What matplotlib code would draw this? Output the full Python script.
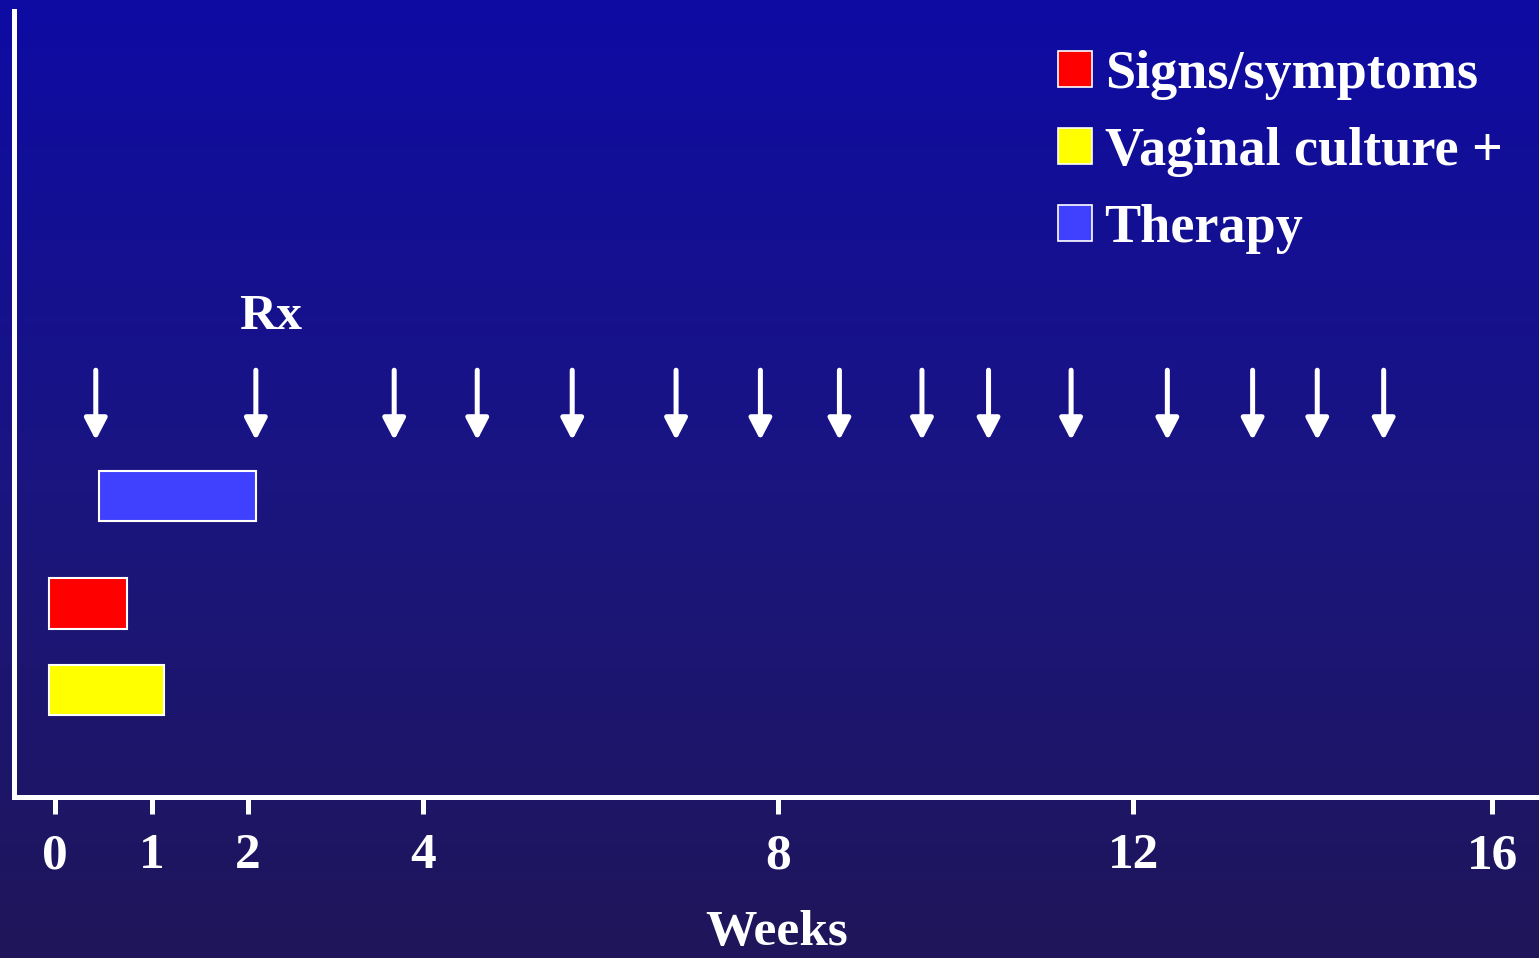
import numpy as np
import matplotlib
matplotlib.use("Agg")
import matplotlib.pyplot as plt
from matplotlib.colors import LinearSegmentedColormap
from matplotlib.patches import Patch

# timeline data, all in weeks
tick_weeks = [0, 1, 2, 4, 8, 12, 16]
tick_labels = ["0", "1", "2", "4", "8", "12", "16"]
rx_weeks = [0.42, 2.09, 3.67, 4.61, 5.68, 6.85, 7.80, 8.69, 9.62,
            10.37, 11.30, 12.38, 13.33, 14.05, 14.79]
series = ["Signs/symptoms", "Vaginal culture +", "Therapy"]
starts = [-0.06, -0.06, 0.45]
ends = [0.74, 1.12, 2.09]
colors = ["#ff0000", "#ffff00", "#4040ff"]

plt.rcParams["font.family"] = ["Liberation Serif", "DejaVu Serif"]
plt.rcParams["font.weight"] = "bold"

# slide axis is stretched a bit for the first two weeks
knot_w = [-1, 0, 1, 2, 4, 8, 12, 16, 17]
knot_f = [-0.0367, 0.0269, 0.0905, 0.1534, 0.2682, 0.501, 0.7338, 0.9692, 1.0281]


def fwd(w):
    return np.interp(w, knot_w, knot_f)


def inv(f):
    return np.interp(f, knot_f, knot_w)


fig = plt.figure(figsize=(15.39, 9.58), dpi=100)

# gradient background
bg = fig.add_axes([0, 0, 1, 1], zorder=-1)
cmap = LinearSegmentedColormap.from_list("slide", ["#0e0ba4", "#1a1580", "#20155a"])
bg.imshow(np.linspace(0, 1, 256).reshape(-1, 1), aspect="auto", cmap=cmap,
          extent=[0, 1, 0, 1])
bg.axis("off")

ax = fig.add_axes([14 / 1539, 161 / 958, 1 - 14 / 1539, 786 / 958])
ax.set_facecolor("none")
ax.set_xscale("function", functions=(fwd, inv))
ax.set_xlim(-0.423, 16.52)
ax.set_ylim(0, 10)

# bars, bottom to top: culture, signs, therapy
row_y = {"Vaginal culture +": 1.36, "Signs/symptoms": 2.46, "Therapy": 3.83}
for name, s, e, c in zip(series, starts, ends, colors):
    ax.barh(row_y[name], e - s, left=s, height=0.64, color=c,
            edgecolor="white", linewidth=1.5)

# treatment arrows
for w in rx_weeks:
    ax.annotate("", xy=(w, 4.54), xytext=(w, 5.43),
                arrowprops=dict(arrowstyle="-|>,head_length=1.3,head_width=0.68",
                                mutation_scale=10, color="white", lw=3.6,
                                shrinkA=0, shrinkB=0))
ax.text(2.26, 6.11, "Rx", color="white", fontsize=37, ha="center", va="center")

for side in ["top", "right"]:
    ax.spines[side].set_visible(False)
for side in ["left", "bottom"]:
    ax.spines[side].set_color("white")
    ax.spines[side].set_linewidth(3.6)

ax.set_yticks([])
ax.set_xticks(tick_weeks)
ax.set_xticklabels(tick_labels)
ax.tick_params(axis="x", colors="white", length=12, width=3.6, pad=14,
               labelsize=37)
ax.set_xlabel("Weeks", color="white", fontsize=37, fontweight="bold", labelpad=22)

handles = [Patch(facecolor=c, edgecolor="white", linewidth=1.2) for c in colors]
fig.legend(handles, series, loc="upper left",
           bbox_to_anchor=(1058 / 1539, 1 - 50 / 958), frameon=False,
           fontsize=39, labelcolor="white", handlelength=0.62, handleheight=0.66,
           handletextpad=0.24, labelspacing=0.5, borderpad=0, borderaxespad=0)

fig.savefig("out.png", dpi=100, facecolor="#1a1580")
